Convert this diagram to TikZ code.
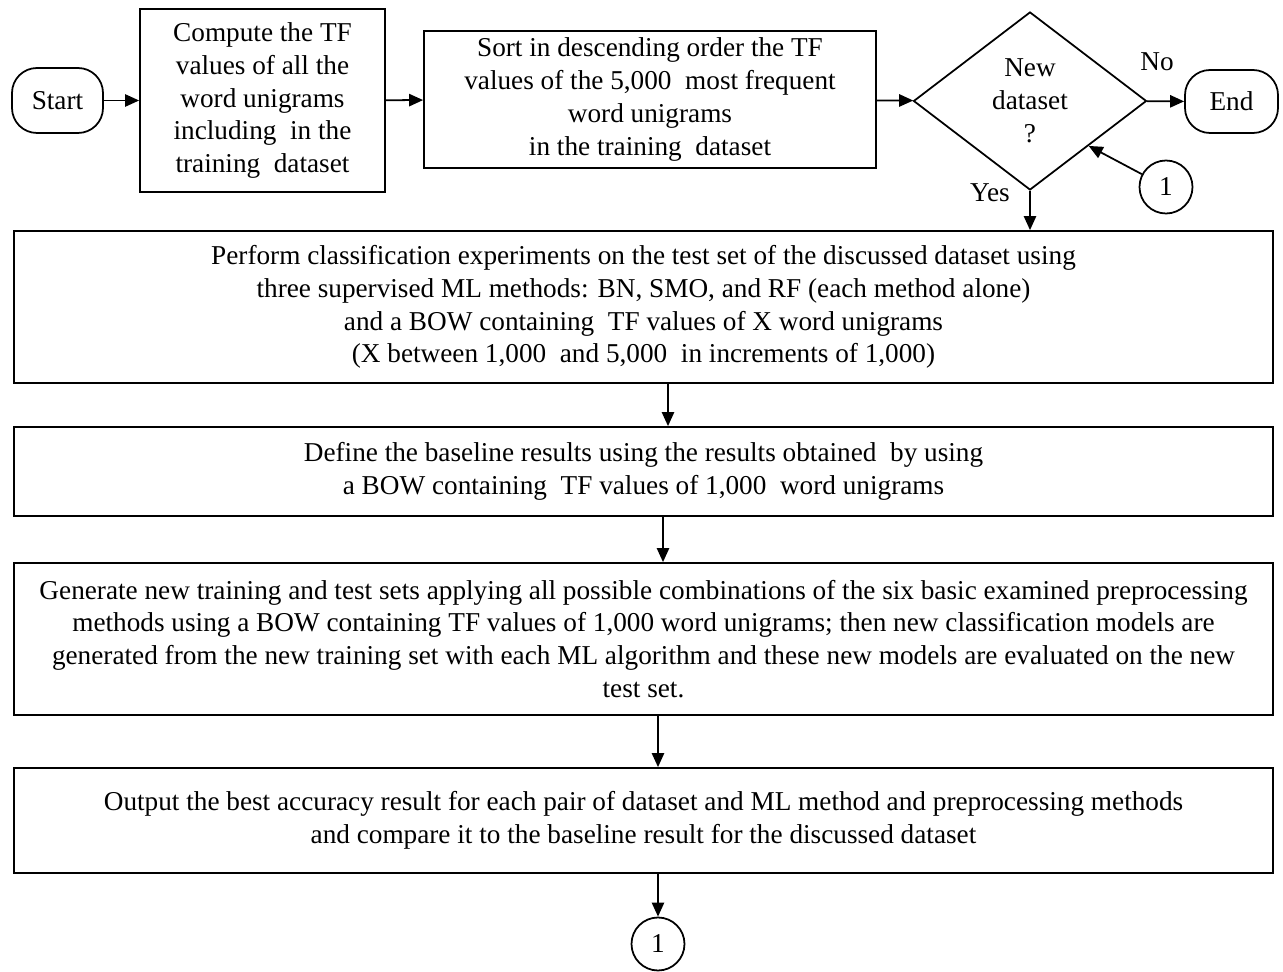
\documentclass[tikz,border=0pt]{standalone}
\usepackage{fontspec}
\setmainfont{Liberation Serif}
\usetikzlibrary{shapes.geometric,arrows.meta}
\newcommand{\boxfont}{\fontsize{15.5}{18.7}\selectfont}

\begin{document}
\begin{tikzpicture}[
      box/.style={draw, line width=1pt, align=center, inner sep=2pt, font=\boxfont},
      term/.style={box, rounded corners=0.5cm},
      wide/.style={box, minimum width=25.18cm},
      decision/.style={box, diamond, inner sep=0pt, minimum width=4.66cm,
                       minimum height=3.56cm},
      conn/.style={draw, circle, line width=1pt, inner sep=0pt,
                   minimum size=1.06cm, font=\boxfont},
      arrow/.style={-{Triangle[length=8pt,width=7pt]}, line width=1pt}
    ]
    \useasboundingbox (0,0) rectangle (25.66,-19.44);

    % top row
    \node[term, minimum width=1.82cm, minimum height=1.3cm] (start) at (1.15,-2.01) {Start};
    \node[box, minimum width=4.9cm, minimum height=3.66cm] (tf) at (5.25,-2.01)
      {Compute the TF\\values of all the\\word unigrams\\including \ in the\\training \ dataset};
    \node[box, minimum width=9.04cm, minimum height=2.74cm] (sort) at (13.0,-1.99)
      {Sort in descending order the TF\\values of the 5,000 \ most frequent\\word unigrams\\in the training \ dataset};
    \node[decision] (newds) at (20.6,-2.02) {New\\dataset\\?};
    \node[term, minimum width=1.86cm, minimum height=1.26cm] (end) at (24.63,-2.03) {End};
    \node[conn] (back) at (23.32,-3.74) {1};

    \node[font=\boxfont] (no)  at (23.14,-1.24) {No};
    \node[font=\boxfont] (yes) at (19.8,-3.86)  {Yes};

    % main steps
    \node[wide, minimum height=3.04cm] (expts) at (12.87,-6.14)
      {Perform classification experiments on the test set of the discussed dataset using\\
       three supervised ML methods: BN, SMO, and RF (each method alone)\\
       and a BOW containing \ TF values of X word unigrams\\
       (X between 1,000 \ and 5,000 \ in increments of 1,000)};
    \node[wide, minimum height=1.78cm] (base) at (12.87,-9.43)
      {Define the baseline results using the results obtained \ by using\\
       a BOW containing \ TF values of 1,000 \ word unigrams};
    \node[wide, minimum height=3.04cm] (prep) at (12.87,-12.78)
      {Generate new training and test sets applying all possible combinations of the six basic examined preprocessing\\
       methods using a BOW containing TF values of 1,000 word unigrams; then new classification models are\\
       generated from the new training set with each ML algorithm and these new models are evaluated on the new\\
       test set.};
    \node[wide, minimum height=2.1cm] (best) at (12.87,-16.41)
      {Output the best accuracy result for each pair of dataset and ML method and preprocessing methods\\
       and compare it to the baseline result for the discussed dataset};
    \node[conn] (loop) at (13.16,-18.88) {1};

    \draw[arrow] (start) -- (tf);
    \draw[arrow] (tf)    -- (sort);
    \draw[arrow] (sort)  -- (newds);
    \draw[arrow] (newds) -- (end);
    \draw[arrow] (back)  -- (newds.south east);
    \draw[arrow] (newds.south) -- (newds.south |- expts.north);

    \draw[arrow] (13.36,0 |- expts.south) -- (13.36,0 |- base.north);
    \draw[arrow] (13.26,0 |- base.south)  -- (13.26,0 |- prep.north);
    \draw[arrow] (13.16,0 |- prep.south)  -- (13.16,0 |- best.north);
    \draw[arrow] (loop.north |- best.south) -- (loop);
  \end{tikzpicture}
\end{document}
